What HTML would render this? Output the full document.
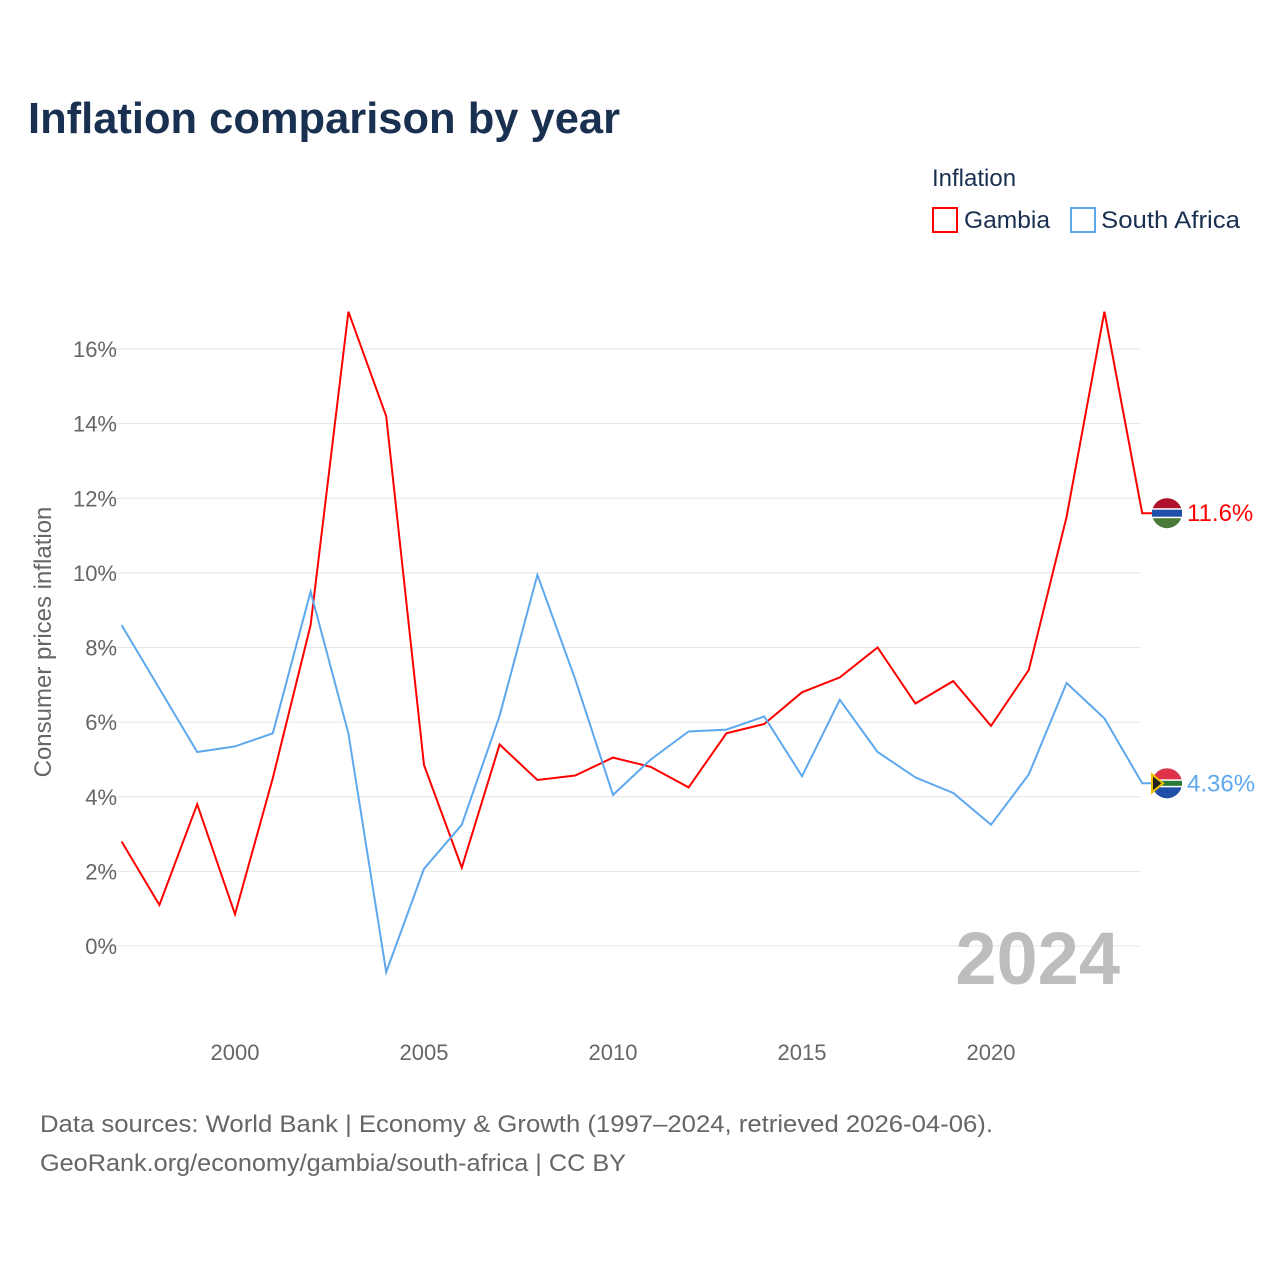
<!DOCTYPE html>
<html><head><meta charset="utf-8"><style>
body{margin:0;background:#fff;font-family:"Liberation Sans",sans-serif}
</style></head><body>
<svg width="1280" height="1280" xmlns="http://www.w3.org/2000/svg" font-family="Liberation Sans, sans-serif">
<text x="28" y="133" font-size="44" font-weight="bold" fill="#1a3050" textLength="592" lengthAdjust="spacingAndGlyphs">Inflation comparison by year</text>
<text x="932" y="186" font-size="24" fill="#1a3050">Inflation</text>
<g><rect x="933" y="208" width="24" height="24" fill="none" stroke="#f00" stroke-width="2"/><text x="964" y="228" font-size="24" fill="#1a3050" textLength="86" lengthAdjust="spacingAndGlyphs">Gambia</text></g>
<g><rect x="1071" y="208" width="24" height="24" fill="none" stroke="#5ea8ee" stroke-width="2"/><text x="1101" y="228" font-size="24" fill="#1a3050" textLength="139" lengthAdjust="spacingAndGlyphs">South Africa</text></g>
<g id="grid"></g>
<g id="yticks"></g>
<g id="xticks"></g>
<text transform="translate(51,642) rotate(-90)" text-anchor="middle" font-size="24" fill="#666">Consumer prices inflation</text>
<text x="1120" y="984" text-anchor="end" font-size="74" font-weight="bold" fill="#bdbdbd">2024</text>
<g id="series"></g>
<text x="40" y="1132" font-size="24" fill="#666" textLength="953" lengthAdjust="spacingAndGlyphs">Data sources: World Bank | Economy &amp; Growth (1997–2024, retrieved 2026-04-06).</text>
<text x="40" y="1171" font-size="24" fill="#666" textLength="586" lengthAdjust="spacingAndGlyphs">GeoRank.org/economy/gambia/south-africa | CC BY</text>
</svg>
<script>
const years=[1997,1998,1999,2000,2001,2002,2003,2004,2005,2006,2007,2008,2009,2010,2011,2012,2013,2014,2015,2016,2017,2018,2019,2020,2021,2022,2023,2024];
const gambia=[2.8,1.1,3.8,0.85,4.5,8.6,17.0,14.2,4.85,2.1,5.4,4.45,4.57,5.05,4.8,4.25,5.7,5.95,6.8,7.2,8.0,6.5,7.1,5.9,7.4,11.5,17.0,11.6];
const southAfrica=[8.6,6.9,5.2,5.35,5.7,9.5,5.7,-0.7,2.07,3.25,6.17,9.95,7.15,4.05,5.0,5.75,5.8,6.15,4.55,6.6,5.2,4.52,4.1,3.25,4.6,7.05,6.1,4.36];
const yTicks=[0,2,4,6,8,10,12,14,16];
const xTicks=[2000,2005,2010,2015,2020];
const NS="http://www.w3.org/2000/svg";
const X=y=>121.6+(y-1997)*37.8;
const Y=v=>946-v*37.31;
function mk(t,a,p){const e=document.createElementNS(NS,t);for(const k in a)e.setAttribute(k,a[k]);document.getElementById(p).appendChild(e);return e;}
yTicks.forEach(v=>{
 const l=mk('line',{x1:100,x2:1141,y1:Y(v),y2:Y(v),stroke:'#e6e6e6','stroke-width':1},'grid');
 
 
 const t=mk('text',{x:117,y:Y(v)+8,'text-anchor':'end','font-size':22,fill:'#666'},'yticks');
 t.textContent=v+'%';
 
 
});
xTicks.forEach(v=>{
 const t=mk('text',{x:X(v),y:1060,'text-anchor':'middle','font-size':22,fill:'#666'},'xticks');
 t.textContent=v;
 
 
});
function series(vals,color,name,label,flag){
 let d=vals.map((v,i)=>(i?'L':'M')+X(years[i]).toFixed(1)+' '+Y(v).toFixed(1)).join(' ');
 const last=vals[vals.length-1];
 d+=' L'+(X(2024)+10)+' '+Y(last).toFixed(1);
 const p=mk('path',{d:d,fill:'none',stroke:color,'stroke-width':2},'series');
 
 
 const cx=1167,cy=Y(last);
 const g=mk('g',{},'series');
 
 
 flag(g,cx,cy);
 const t=mk('text',{x:1187,y:cy+8,'font-size':24,fill:color},'series');
 t.textContent=label;
 
 
}
function add(g,t,a){const e=document.createElementNS(NS,t);for(const k in a)e.setAttribute(k,a[k]);g.appendChild(e);}
series(gambia,'#f00','gambia','11.6%',(g,cx,cy)=>{
 add(g,'circle',{cx,cy,r:15,fill:'#4a7a3a'});
 add(g,'path',{d:`M${cx-15} ${cy} A15 15 0 0 1 ${cx+15} ${cy} Z`,fill:'#b0102a'});
 add(g,'rect',{x:cx-15,y:cy-5,width:30,height:10,fill:'#fff'});
 add(g,'rect',{x:cx-15,y:cy-3.5,width:30,height:7,fill:'#1f4fa8'});
});
series(southAfrica,'#5ea8ee','south-africa','4.36%',(g,cx,cy)=>{
 add(g,'circle',{cx,cy,r:15,fill:'#1f4fa8'});
 add(g,'path',{d:`M${cx-15} ${cy} A15 15 0 0 1 ${cx+15} ${cy} Z`,fill:'#e0334a'});
 add(g,'rect',{x:cx-15,y:cy-4,width:30,height:8,fill:'#fff'});
 add(g,'rect',{x:cx-15,y:cy-2.5,width:30,height:5,fill:'#2a7a3a'});
 add(g,'path',{d:`M${cx-15} ${cy-9} L${cx-4} ${cy} L${cx-15} ${cy+9} Z`,fill:'#222',stroke:'#f2c200','stroke-width':2});
});
</script>
</body></html>
